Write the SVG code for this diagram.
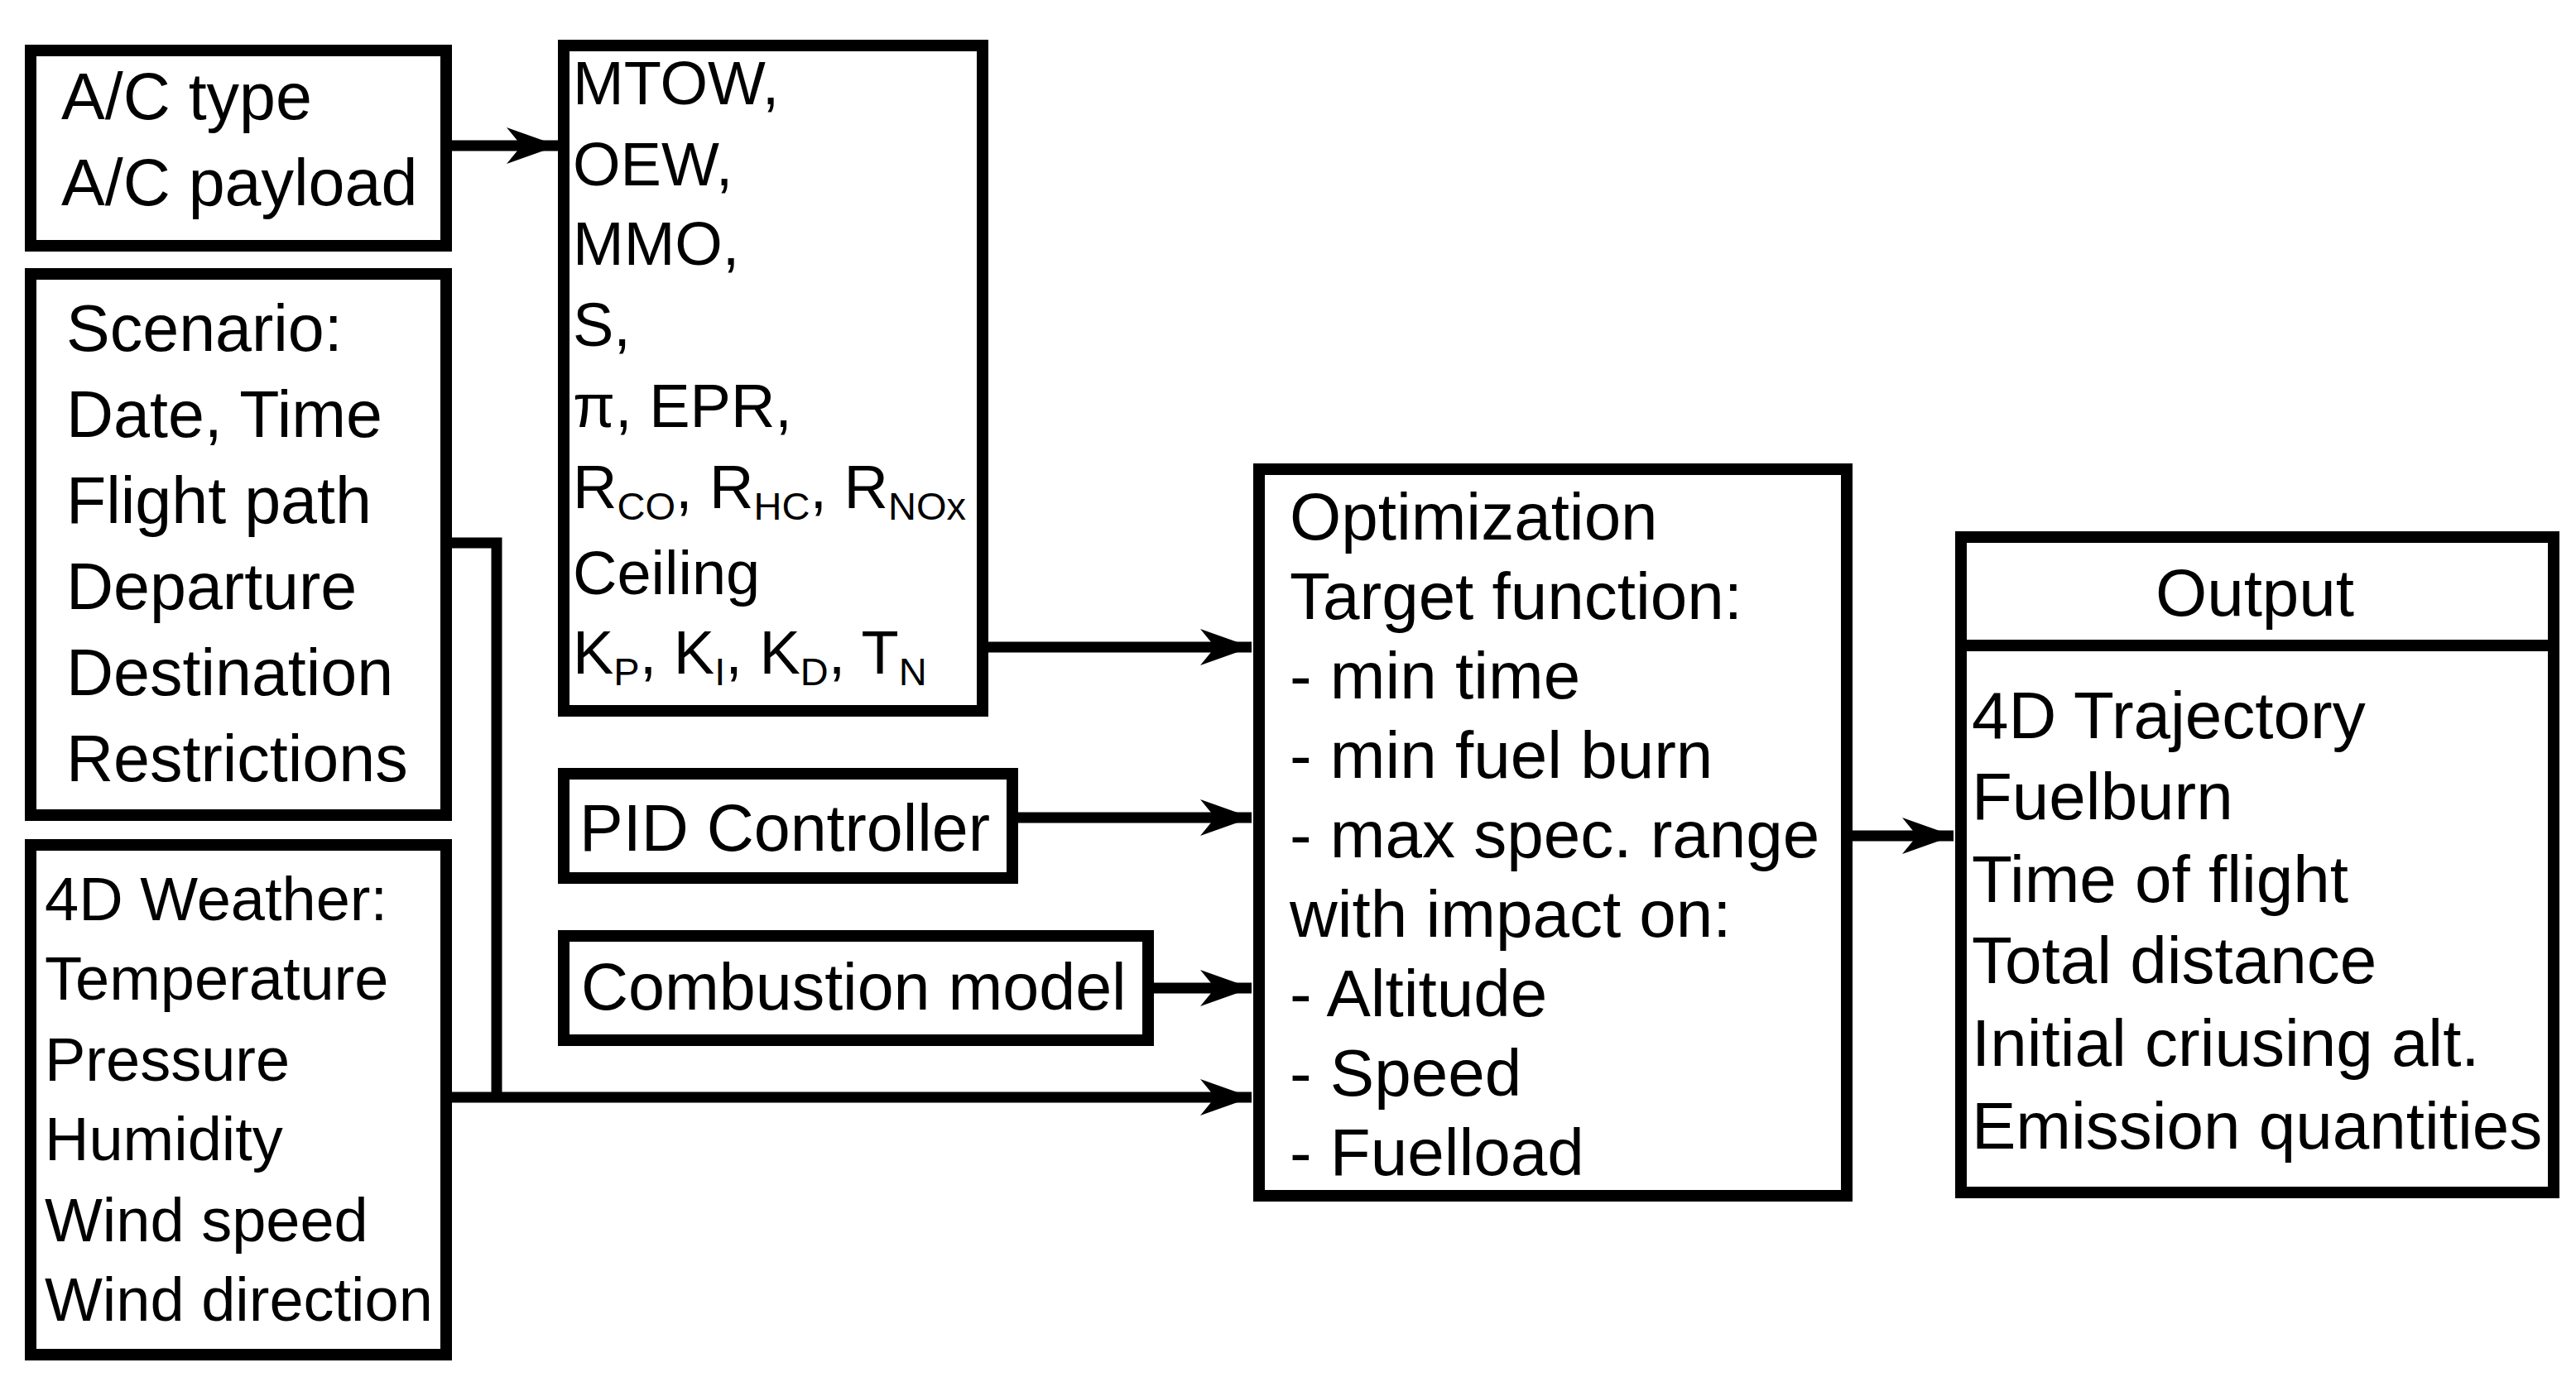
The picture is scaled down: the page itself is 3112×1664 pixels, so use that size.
<svg xmlns="http://www.w3.org/2000/svg" width="3112" height="1664" viewBox="0 0 3112 1664">
<style>
.box{fill:#fff;stroke:#000;stroke-width:14}
text{font-family:"Liberation Sans",Arial,sans-serif;fill:#000}
.t{font-size:79px}
.w{font-size:74px}
.s{font-size:47px}
.c{fill:none;stroke:#000;stroke-width:13}
</style>
<defs>
<marker id="ah" markerUnits="userSpaceOnUse" markerWidth="80" markerHeight="60" viewBox="-70 -30 80 60" refX="0" refY="0" orient="auto">
<path d="M0,0 L-62,-22 L-44,0 L-62,22 Z" fill="#000"/>
</marker>
</defs>
<rect width="3112" height="1664" fill="#fff"/>
<g id="connectors">
<line class="c" x1="546" y1="176" x2="674" y2="176" marker-end="url(#ah)"/>
<line class="c" x1="1194" y1="782" x2="1512" y2="782" marker-end="url(#ah)"/>
<line class="c" x1="1230" y1="988" x2="1512" y2="988" marker-end="url(#ah)"/>
<line class="c" x1="1394" y1="1194" x2="1512" y2="1194" marker-end="url(#ah)"/>
<polyline class="c" points="546,656 600,656 600,1326"/>
<line class="c" x1="546" y1="1326" x2="1512" y2="1326" marker-end="url(#ah)"/>
<line class="c" x1="2238" y1="1010" x2="2360" y2="1010" marker-end="url(#ah)"/>
</g>
<g id="ac">
<rect class="box" x="37" y="61" width="502" height="236"/>
<text class="t" x="74" y="144">A/C type</text>
<text class="t" x="74" y="248">A/C payload</text>
</g>
<g id="scenario">
<rect class="box" x="37" y="331" width="502" height="654"/>
<text class="t" x="80" y="424">Scenario:</text>
<text class="t" x="80" y="528">Date, Time</text>
<text class="t" x="80" y="632">Flight path</text>
<text class="t" x="80" y="736">Departure</text>
<text class="t" x="80" y="840">Destination</text>
<text class="t" x="80" y="944">Restrictions</text>
</g>
<g id="weather">
<rect class="box" x="37" y="1021" width="502" height="616"/>
<text class="w" x="54" y="1112">4D Weather:</text>
<text class="w" x="54" y="1208">Temperature</text>
<text class="w" x="54" y="1306">Pressure</text>
<text class="w" x="54" y="1402">Humidity</text>
<text class="w" x="54" y="1500">Wind speed</text>
<text class="w" x="54" y="1596">Wind direction</text>
</g>
<g id="params" style="font-size:74px">
<rect class="box" x="681" y="55" width="506" height="804"/>
<text x="692" y="126">MTOW,</text>
<text x="692" y="224">OEW,</text>
<text x="692" y="320">MMO,</text>
<text x="692" y="418">S,</text>
<text x="692" y="516">π, EPR,</text>
<text x="692" y="614">R<tspan class="s" dy="14">CO</tspan><tspan dy="-14">, R</tspan><tspan class="s" dy="14">HC</tspan><tspan dy="-14">, R</tspan><tspan class="s" dy="14">NOx</tspan></text>
<text x="692" y="718">Ceiling</text>
<text x="692" y="814">K<tspan class="s" dy="14">P</tspan><tspan dy="-14">, K</tspan><tspan class="s" dy="14">I</tspan><tspan dy="-14">, K</tspan><tspan class="s" dy="14">D</tspan><tspan dy="-14">, T</tspan><tspan class="s" dy="14">N</tspan></text>
</g>
<g id="pid">
<rect class="box" x="681" y="935" width="542" height="126"/>
<text class="t" x="700" y="1028">PID Controller</text>
</g>
<g id="combustion">
<rect class="box" x="681" y="1131" width="706" height="126"/>
<text class="t" x="702" y="1220">Combustion model</text>
</g>
<g id="optimization" style="font-size:80px">
<rect class="box" x="1521" y="567" width="710" height="878"/>
<text x="1558" y="652">Optimization</text>
<text x="1558" y="748">Target function:</text>
<text x="1558" y="844">- min time</text>
<text x="1558" y="940">- min fuel burn</text>
<text x="1558" y="1036">- max spec. range</text>
<text x="1558" y="1132">with impact on:</text>
<text x="1558" y="1228">- Altitude</text>
<text x="1558" y="1324">- Speed</text>
<text x="1558" y="1420">- Fuelload</text>
</g>
<g id="output" style="font-size:80px">
<rect class="box" x="2369" y="649" width="716" height="792"/>
<line x1="2369" y1="780" x2="3085" y2="780" stroke="#000" stroke-width="14"/>
<text x="2724" y="744" text-anchor="middle">Output</text>
<text x="2382" y="892">4D Trajectory</text>
<text x="2382" y="990">Fuelburn</text>
<text x="2382" y="1090">Time of flight</text>
<text x="2382" y="1188">Total distance</text>
<text x="2382" y="1288">Initial criusing alt.</text>
<text x="2382" y="1388">Emission quantities</text>
</g>
</svg>
